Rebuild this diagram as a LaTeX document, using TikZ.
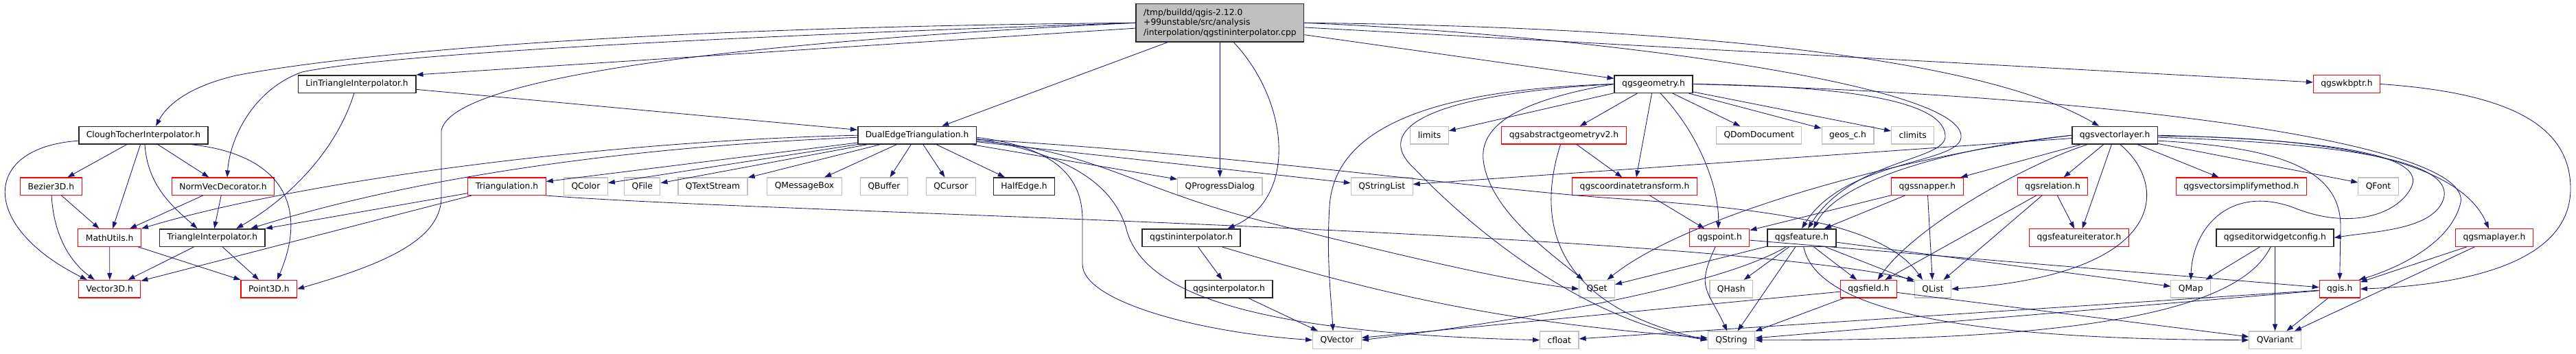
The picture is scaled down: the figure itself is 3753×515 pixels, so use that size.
\documentclass[tikz,border=0pt]{standalone}
\usepackage{fontspec}
\newfontfamily\dxsans{DejaVu Sans}
\usetikzlibrary{arrows.meta}
\definecolor{dxblue}{HTML}{191970}
\definecolor{dxgray}{HTML}{BFBFBF}
\definecolor{dxred}{HTML}{FF0000}

\begin{document}
\begin{tikzpicture}[x=1pt, y=1pt, font=\dxsans\fontsize{12.3}{14.5}\selectfont,
  box/.style={rectangle, draw, line width=1.1pt, inner xsep=11pt, inner ysep=0pt, minimum height=25.5pt},
  hdr/.style={box, draw=black!85, line width=1.5pt},
  trunc/.style={box, draw=dxred},
  ext/.style={box, draw=dxgray},
  dep/.style={draw=dxblue, line width=0.85pt, -{Triangle[length=10pt,width=7pt]}}]
  \useasboundingbox (0,0) rectangle (3753,-515);

  \node[hdr, fill=dxgray, align=left, minimum height=55.3pt] (cpp) at (1777.4,-33.3)
    {/tmp/buildd/qgis-2.12.0\\+99unstable/src/analysis\\/interpolation/qgstininterpolator.cpp};

  \node[hdr] (lintri) at (520,-122.5) {LinTriangleInterpolator.h};
  \node[hdr] (geom) at (2409,-122.5) {qgsgeometry.h};
  \node[trunc] (wkb) at (3419,-122.5) {qgswkbptr.h};

  \node[hdr] (clough) at (209,-197.2) {CloughTocherInterpolator.h};
  \node[hdr] (dual) at (1336,-197.2) {DualEdgeTriangulation.h};
  \node[ext] (limits) at (2082.5,-197.2) {limits};
  \node[trunc] (absgeom) at (2278.5,-197.2) {qgsabstractgeometryv2.h};
  \node[ext] (qdom) at (2562.7,-197.2) {QDomDocument};
  \node[ext] (geos) at (2692,-197.2) {geos\_c.h};
  \node[ext] (climits) at (2786.7,-197.2) {climits};
  \node[hdr] (vlayer) at (3081,-197.2) {qgsvectorlayer.h};

  \node[trunc] (bezier) at (74.4,-271.7) {Bezier3D.h};
  \node[trunc] (normvec) at (325,-271.7) {NormVecDecorator.h};
  \node[trunc] (triangulation) at (738.5,-271.7) {Triangulation.h};
  \node[ext] (qcolor) at (853.4,-271.7) {QColor};
  \node[ext] (qfile) at (935.8,-271.7) {QFile};
  \node[ext] (qtextstream) at (1038.5,-271.7) {QTextStream};
  \node[ext] (qmessagebox) at (1172,-271.7) {QMessageBox};
  \node[ext] (qbuffer) at (1288,-271.7) {QBuffer};
  \node[ext] (qcursor) at (1385.3,-271.7) {QCursor};
  \node[hdr] (halfedge) at (1492,-271.7) {HalfEdge.h};
  \node[ext] (qprogress) at (1777.3,-271.7) {QProgressDialog};
  \node[ext] (qstringlist) at (2013.2,-271.7) {QStringList};
  \node[trunc] (coordtrans) at (2381.5,-271.7) {qgscoordinatetransform.h};
  \node[trunc] (snapper) at (2807.8,-271.7) {qgssnapper.h};
  \node[trunc] (relation) at (2990.5,-271.7) {qgsrelation.h};
  \node[trunc] (simplify) at (3265.4,-271.7) {qgsvectorsimplifymethod.h};
  \node[ext] (qfont) at (3465,-271.7) {QFont};

  \node[trunc] (mathutils) at (159.7,-346.5) {MathUtils.h};
  \node[hdr] (triinterp) at (309.4,-346.5) {TriangleInterpolator.h};
  \node[hdr] (tininterp) at (1735.7,-346.5) {qgstininterpolator.h};
  \node[trunc] (qgspoint) at (2505.3,-346.5) {qgspoint.h};
  \node[hdr] (feature) at (2625,-346.5) {qgsfeature.h};
  \node[trunc] (featit) at (3029,-346.5) {qgsfeatureiterator.h};
  \node[hdr] (editor) at (3314.4,-346.5) {qgseditorwidgetconfig.h};
  \node[trunc] (maplayer) at (3633.9,-346.5) {qgsmaplayer.h};

  \node[trunc] (vector3d) at (159.8,-421.2) {Vector3D.h};
  \node[trunc] (point3d) at (391.8,-421.2) {Point3D.h};
  \node[hdr] (interp) at (1790.5,-421.2) {qgsinterpolator.h};
  \node[ext] (qset) at (2326.5,-421.2) {QSet};
  \node[ext] (qhash) at (2522.3,-421.2) {QHash};
  \node[trunc] (field) at (2722.5,-421.2) {qgsfield.h};
  \node[ext] (qlist) at (2816,-421.2) {QList};
  \node[ext] (qmap) at (3191.7,-421.2) {QMap};
  \node[trunc] (qgis) at (3408.7,-421.2) {qgis.h};

  \node[ext] (qvector) at (1948,-495.7) {QVector};
  \node[ext] (cfloat) at (2271.8,-495.7) {cfloat};
  \node[ext] (qstring) at (2522.5,-495.7) {QString};
  \node[ext] (qvariant) at (3314.5,-495.7) {QVariant};

  \foreach \s/\t in {cpp/lintri.north east, cpp/dual, cpp/qprogress, cpp/geom, cpp/wkb,
      lintri/dual, clough/bezier, clough/mathutils, clough/normvec,
      bezier/mathutils, normvec/mathutils, normvec/triinterp,
      mathutils/vector3d, mathutils/point3d, triinterp/vector3d, triinterp/point3d,
      triangulation/triinterp, triangulation/vector3d,
      dual/triangulation, dual/qcolor, dual/qfile, dual/qtextstream, dual/qmessagebox,
      dual/qbuffer, dual/qcursor, dual/halfedge, dual/qprogress, dual/qstringlist,
      tininterp/interp, interp/qvector,
      geom/limits, geom/absgeom, geom/coordtrans, geom/qdom, geom/geos, geom/climits,
      absgeom/coordtrans, coordtrans/qgspoint, qgspoint/qgis,
      vlayer/qstringlist, vlayer/snapper, vlayer/relation, vlayer/featit, vlayer/simplify, vlayer/qfont,
      snapper/qgspoint, snapper/feature, snapper/qlist,
      relation/field, relation/qlist, relation/featit,
      feature/qset, feature/qhash, feature/qstring, feature/field, feature/qlist, feature/qmap,
      field/qstring, field/qvariant, field/qvector,
      qgis/qstring, qgis/cfloat, qgis/qvariant,
      editor/qmap, editor/qvariant, maplayer/qgis, maplayer/qvariant}{
    \draw[dep] (\s) -- (\t);}

  \draw[dep] (cpp.west) .. controls (900,-40) and (500,-80) .. (344,-110)
    .. controls (280,-125) and (245,-150) .. ([xshift=18pt]clough.north);
  \draw[dep] (cpp.west) .. controls (1000,-55) and (560,-80) .. (440,-105)
    .. controls (370,-130) and (335,-200) .. ([xshift=6pt]normvec.north);
  \draw[dep] (cpp.west) .. controls (1100,-60) and (660,-110) .. (643,-190) -- (643,-290)
    .. controls (640,-350) and (560,-385) .. (point3d.east);
  \draw[dep] ([xshift=20pt]cpp.south) .. controls (1880,-150) and (1890,-290) .. ([xshift=53pt]tininterp.north);
  \draw[dep] (cpp.east) .. controls (2500,-40) and (2900,-90) .. ([xshift=-23pt]vlayer.north);
  \draw[dep] (cpp.east) .. controls (2300,-50) and (2850,-120) .. (2857,-197)
    .. controls (2862,-240) and (2690,-230) .. (feature.north);

  \draw[dep] (lintri) .. controls (490,-220) and (420,-290) .. ([xshift=35pt]triinterp.north);
  \draw[dep] ([xshift=2pt]clough.south) .. controls (215,-270) and (250,-300) .. ([xshift=-22pt]triinterp.north);
  \draw[dep] ([xshift=70pt]clough.south) .. controls (410,-225) and (450,-300) .. ([xshift=12pt]point3d.north);
  \draw[dep] ([yshift=-8pt]clough.west) .. controls (-28,-215) and (-30,-330) .. ([xshift=-33pt]vector3d.north);
  \draw[dep] (bezier) .. controls (78,-340) and (100,-380) .. ([xshift=-22pt]vector3d.north);

  \draw[dep] (dual.west) .. controls (900,-205) and (450,-260) .. (mathutils.north east);
  \draw[dep] ([yshift=-3pt]dual.west) .. controls (900,-215) and (600,-260) .. ([xshift=56pt]triinterp.north);
  \draw[dep] ([yshift=-6pt]dual.east) .. controls (1800,-225) and (2150,-275) .. (2350,-289)
    .. controls (2550,-303) and (2740,-320) .. ([xshift=-15pt]qlist.north);
  \draw[dep] ([yshift=-8pt]dual.east) .. controls (1600,-220) and (1650,-275) .. (1850,-325)
    .. controls (2050,-375) and (2200,-410) .. (qset.west);
  \draw[dep] ([yshift=-3pt]dual.east) .. controls (1540,-215) and (1577,-260) .. (1577,-320) -- (1577,-385)
    .. controls (1577,-440) and (1750,-485) .. (qvector.west);
  \draw[dep] ([yshift=-5pt]dual.east) .. controls (1560,-225) and (1620,-270) .. (1640,-330)
    .. controls (1660,-420) and (1800,-485) .. (cfloat.west);
  \draw[dep] (triangulation.south east) .. controls (1100,-310) and (2450,-335) .. (qlist.north west);
  \draw[dep] (tininterp) to[bend right=6] (qstring);

  \draw[dep] ([xshift=10pt]geom.south) .. controls (2480,-200) and (2505,-280) .. ([xshift=-2pt]qgspoint.north);
  \draw[dep] (geom.west) .. controls (2220,-145) and (2150,-180) .. (2162,-240)
    .. controls (2175,-310) and (2260,-370) .. ([xshift=-20pt]qset.north);
  \draw[dep] (geom.west) .. controls (2100,-130) and (1945,-180) .. (1937,-300)
    .. controls (1932,-380) and (1940,-440) .. ([xshift=-6pt]qvector.north);
  \draw[dep] (geom.west) .. controls (2040,-140) and (2010,-200) .. (2060,-245)
    .. controls (2160,-350) and (2320,-470) .. (qstring.west);
  \draw[dep] (geom.east) .. controls (2650,-125) and (2830,-140) .. (2834,-197)
    .. controls (2838,-235) and (2700,-230) .. ([xshift=9pt]feature.north);
  \draw[dep] (geom.east) .. controls (3100,-140) and (3600,-210) .. (3585,-295)
    .. controls (3570,-360) and (3480,-395) .. ([xshift=28pt]qgis.north);
  \draw[dep] ([xshift=-5pt]absgeom.south) .. controls (2245,-300) and (2240,-440) .. (qstring.west);
  \draw[dep] (qgspoint) to[out=-115,in=115,looseness=1.4] (qstring);
  \draw[dep] (feature) .. controls (2500,-420) and (2200,-470) .. (qvector.east);
  \draw[dep] (feature) .. controls (2650,-470) and (2950,-495) .. (qvariant.west);

  \draw[dep] (vlayer.west) .. controls (2750,-230) and (2450,-320) .. ([xshift=15pt]qset.north);
  \draw[dep] (vlayer.west) .. controls (2850,-215) and (2680,-260) .. ([xshift=17pt]feature.north);
  \draw[dep] ([xshift=-40pt]vlayer.south) .. controls (2950,-240) and (2790,-330) .. ([xshift=13pt]field.north);
  \draw[dep] ([xshift=8pt]vlayer.south) .. controls (3160,-270) and (3160,-400) .. (qlist.east);
  \draw[dep] (vlayer.east) .. controls (3450,-205) and (3535,-235) .. (3512,-275)
    .. controls (3490,-315) and (3420,-335) .. (3340,-302)
    .. controls (3250,-270) and (3195,-330) .. (qmap.north);
  \draw[dep] ([yshift=-3pt]vlayer.east) .. controls (3450,-210) and (3575,-240) .. (3560,-290)
    .. controls (3545,-335) and (3460,-337) .. (editor.east);
  \draw[dep] ([yshift=-8pt]vlayer.east) .. controls (3330,-215) and (3410,-250) .. (3410,-330) -- (qgis.north);
  \draw[dep] ([yshift=-1pt]vlayer.east) .. controls (3450,-200) and (3590,-250) .. ([xshift=-8pt]maplayer.north);
  \draw[dep] (editor) .. controls (3260,-460) and (3000,-497) .. (qstring.east);
  \draw[dep] (wkb.east) .. controls (3650,-135) and (3745,-180) .. (3745,-275)
    .. controls (3745,-380) and (3600,-415) .. (qgis.east);
\end{tikzpicture}
\end{document}
